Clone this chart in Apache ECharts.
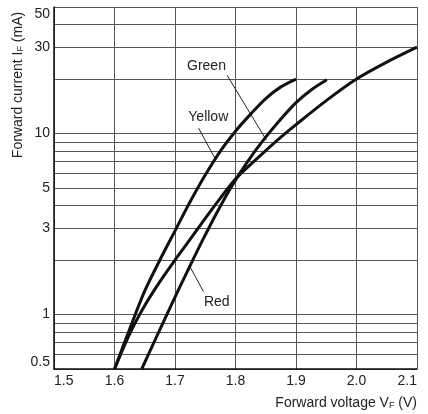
<!DOCTYPE html>
<html lang="en">
<head>
  <meta charset="UTF-8">
  <script src="https://cdn.jsdelivr.net/npm/echarts@6/dist/echarts.min.js"></script>
  <style>
    html, body { margin: 0; background: #fff; }
    #chart { width: 428px; height: 414px; }
  </style>
</head>
<body>
  <div id="chart"></div>
  <script>
    // forward voltage (V) / forward current (mA)
    var yellowV = [1.600, 1.625, 1.650, 1.675, 1.700, 1.725, 1.750, 1.775, 1.800, 1.825, 1.850, 1.875, 1.900];
    var yellowI = [0.5, 0.83, 1.35, 2.0, 2.9, 4.2, 5.9, 8.0, 10.3, 12.8, 15.6, 18.1, 20];

    var greenV = [1.600, 1.625, 1.650, 1.675, 1.700, 1.725, 1.750, 1.775, 1.800, 1.825, 1.850, 1.875, 1.900, 1.950, 2.000, 2.050, 2.100];
    var greenI = [0.5, 0.78, 1.12, 1.52, 2.0, 2.6, 3.4, 4.4, 5.6, 6.75, 8.05, 9.55, 11.2, 15.2, 20, 24.8, 30];

    var redV = [1.645, 1.670, 1.695, 1.720, 1.745, 1.770, 1.795, 1.820, 1.845, 1.870, 1.900, 1.925, 1.951];
    var redI = [0.5, 0.76, 1.15, 1.72, 2.55, 3.7, 5.2, 7.0, 9.1, 11.5, 14.8, 17.4, 19.8];

    var yGrid = [0.5, 0.6, 0.7, 0.8, 0.9, 1, 2, 3, 4, 5, 6, 7, 8, 9, 10, 20, 30, 40, 50];
    var yLabels = [0.5, 1, 3, 5, 10, 30, 50];

    // label text spot and leader line [from, to] for each curve
    var yellowNote = [1.755, 12.3];
    var yellowLead = [[1.739, 10.7], [1.766, 7.3]];
    var greenNote = [1.752, 23.5];
    var greenLead = [[1.786, 21], [1.851, 9.2]];
    var redNote = [1.769, 1.17];
    var redLead = [[1.747, 1.34], [1.725, 1.83]];

    var font = '"Liberation Sans", Arial, Helvetica, sans-serif';

    function pairs(xs, ys) {
      return xs.map(function (x, i) { return [x, ys[i]]; });
    }

    function curve(name, xs, ys, note, lead) {
      return {
        name: name,
        type: 'line',
        data: pairs(xs, ys),
        showSymbol: false,
        smooth: 0.3,
        z: 5,
        lineStyle: { color: '#111', width: 3 },
        markPoint: {
          symbol: 'circle',
          symbolSize: 0,
          label: {
            show: true,
            position: 'inside',
            formatter: '{b}',
            color: '#222',
            fontSize: 14,
            fontFamily: font
          },
          data: [{ name: name, coord: note }]
        },
        markLine: {
          silent: true,
          symbol: ['none', 'arrow'],
          symbolSize: [0, 5],
          label: { show: false },
          lineStyle: { color: '#222', width: 1, type: 'solid' },
          data: [[{ coord: lead[0] }, { coord: lead[1] }]]
        }
      };
    }

    var chart = echarts.init(document.getElementById('chart'), null, { renderer: 'canvas' });

    var option = {
      animation: false,
      backgroundColor: '#fff',
      grid: { left: 54, right: 11, top: 7, bottom: 45 },
      xAxis: {
        type: 'value',
        min: 1.5,
        max: 2.1,
        interval: 0.1,
        axisLine: { lineStyle: { color: '#111', width: 1.5 } },
        axisTick: { show: false },
        splitLine: { show: true, lineStyle: { color: '#555', width: 1 } },
        axisLabel: {
          color: '#222',
          fontSize: 14,
          fontFamily: font,
          margin: 5,
          alignMinLabel: 'left',
          alignMaxLabel: 'right',
          formatter: function (v) { return v.toFixed(1); }
        }
      },
      yAxis: {
        type: 'log',
        logBase: 10,
        min: 0.5,
        max: 50,
        axisLine: { show: true, lineStyle: { color: '#111', width: 1.5 } },
        axisTick: { show: false, customValues: yGrid },
        splitLine: { show: true, lineStyle: { color: '#555', width: 1 } },
        axisLabel: {
          customValues: yLabels,
          color: '#222',
          fontSize: 14,
          fontFamily: font,
          margin: 4,
          verticalAlignMinLabel: 'bottom',
          verticalAlignMaxLabel: 'top',
          formatter: function (v) { return String(v); }
        }
      },
      graphic: [
        {
          type: 'text',
          x: 18,
          y: 85,
          rotation: Math.PI / 2,
          style: {
            text: 'Forward current I{s|F} (mA)',
            align: 'center',
            verticalAlign: 'middle',
            fill: '#222',
            fontSize: 14,
            fontFamily: font,
            rich: { s: { fontSize: 9, fontFamily: font, fill: '#222', verticalAlign: 'bottom' } }
          }
        },
        {
          type: 'text',
          right: 11,
          top: 396,
          style: {
            text: 'Forward voltage V{s|F} (V)',
            fill: '#222',
            fontSize: 14,
            fontFamily: font,
            rich: { s: { fontSize: 9, fontFamily: font, fill: '#222', verticalAlign: 'bottom' } }
          }
        }
      ],
      series: [
        curve('Yellow', yellowV, yellowI, yellowNote, yellowLead),
        curve('Green', greenV, greenI, greenNote, greenLead),
        curve('Red', redV, redI, redNote, redLead)
      ]
    };

    chart.setOption(option);
  </script>
</body>
</html>
